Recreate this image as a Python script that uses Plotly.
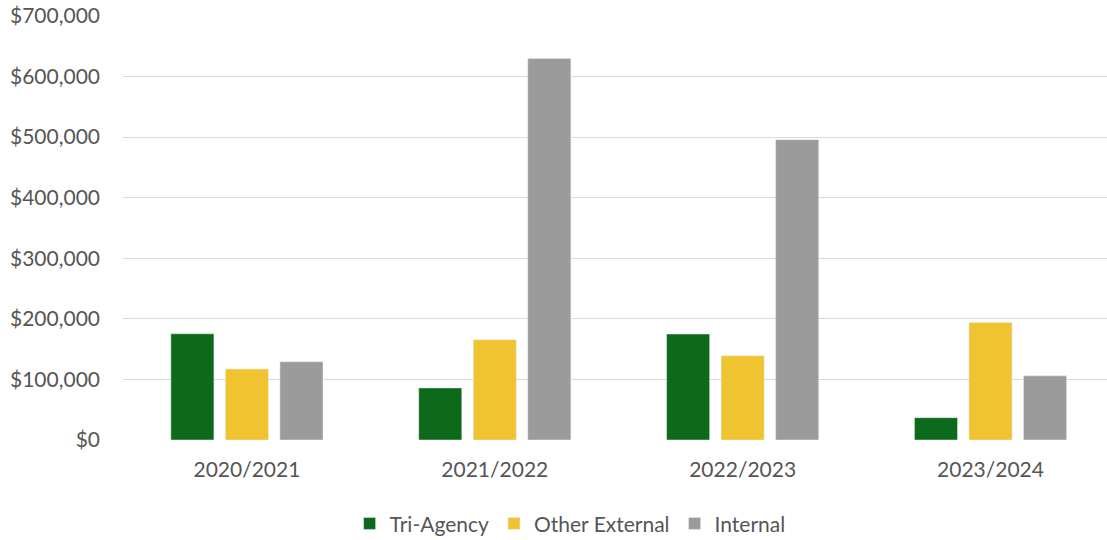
import plotly.graph_objects as go

categories = ["2020/2021", "2021/2022", "2022/2023", "2023/2024"]
tri_agency = [175400, 86000, 174900, 36900]
other_external = [117200, 165400, 139000, 194000]
internal = [129200, 630000, 495800, 105900]
y_ticks = [0, 100000, 200000, 300000, 400000, 500000, 600000, 700000]
y_tick_labels = ["$0", "$100,000", "$200,000", "$300,000", "$400,000", "$500,000", "$600,000", "$700,000"]

FONT = "Lato, Carlito, Calibri, sans-serif"
TXT = "#555555"

fig = go.Figure()
fig.add_bar(name="Tri-Agency", x=categories, y=tri_agency, marker_color="#0d6a1a")
fig.add_bar(name="Other External", x=categories, y=other_external, marker_color="#f0c430")
fig.add_bar(name="Internal", x=categories, y=internal, marker_color="#9b9b9c")

fig.update_layout(
    width=1107, height=540,
    margin=dict(l=123, r=0, t=16, b=100, autoexpand=False),
    paper_bgcolor="white", plot_bgcolor="white",
    barmode="group", bargap=0.34, bargroupgap=0.21,
    font=dict(family=FONT, size=21, color=TXT),
    legend=dict(orientation="h", xref="container", yref="container",
                x=0.515, y=0.03, xanchor="center", yanchor="middle",
                font=dict(family=FONT, size=21, color=TXT),
                itemwidth=30, tracegroupgap=0),
    xaxis=dict(range=[-0.5, 3.47], showgrid=False, showline=False, zeroline=False,
               automargin=False,
               tickfont=dict(family=FONT, size=21, color=TXT), ticklabelstandoff=15),
    yaxis=dict(range=[0, 700000], tickvals=y_ticks, ticktext=y_tick_labels,
               showgrid=True, gridcolor="#d9d9d9", gridwidth=1.3, zeroline=False, showline=False,
               automargin=False,
               tickfont=dict(family=FONT, size=21, color=TXT), ticklabelstandoff=22),
)

fig.write_html("out.html", config={"displayModeBar": False},
               post_script="document.body.style.margin='0px';document.body.style.overflow='hidden';")
